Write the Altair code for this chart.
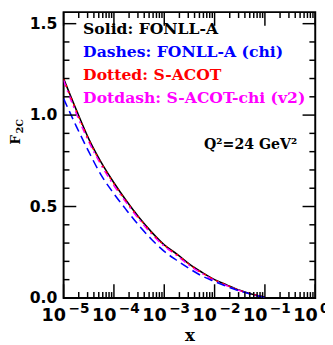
import altair as alt
import pandas as pd

# ---- data ----
x_vals = [1.0e-5, 1.78e-5, 3.16e-5, 5.62e-5, 1.0e-4, 1.78e-4, 3.16e-4, 5.62e-4,
          1.0e-3, 1.78e-3, 3.16e-3, 5.62e-3, 1.0e-2, 1.78e-2, 3.16e-2, 5.62e-2, 1.0e-1]
fonll_a = [1.20, 1.03, 0.87, 0.74, 0.63, 0.53, 0.44, 0.36, 0.29, 0.24, 0.185, 0.14,
           0.10, 0.07, 0.042, 0.02, 0.005]
fonll_a_chi = [1.09, 0.94, 0.80, 0.67, 0.57, 0.48, 0.395, 0.32, 0.255, 0.205, 0.16,
               0.12, 0.09, 0.062, 0.038, 0.018, 0.003]
s_acot = [1.20, 1.025, 0.865, 0.735, 0.625, 0.527, 0.437, 0.357, 0.288, 0.238, 0.183,
          0.138, 0.099, 0.069, 0.041, 0.02, 0.005]
s_acot_chi = [1.19, 1.01, 0.855, 0.725, 0.615, 0.52, 0.43, 0.35, 0.283, 0.232, 0.178,
              0.134, 0.096, 0.066, 0.04, 0.019, 0.004]

legend_lines = ["Solid: FONLL-A", "Dashes: FONLL-A (chi)", "Dotted: S-ACOT",
                "Dotdash: S-ACOT-chi (v2)"]
legend_colors = ["#000000", "#0000ff", "#ff0000", "#ff00ff"]
q2_label = "Q²=24 GeV²"

x_major = [1e-5, 1e-4, 1e-3, 1e-2, 1e-1, 1.0]
x_exponents = ["−5", "−4", "−3", "−2", "−1", "0"]
x_minor = [m * d for d in [1e-5, 1e-4, 1e-3, 1e-2, 1e-1] for m in range(2, 10)]
y_major = [0.0, 0.5, 1.0, 1.5]
y_minor = [0.1, 0.2, 0.3, 0.4, 0.6, 0.7, 0.8, 0.9, 1.1, 1.2, 1.3, 1.4]
y_top = 1.563

W, H = 258, 293
xscale = alt.Scale(type="log", domain=[1e-5, 1.0], nice=False)
yscale = alt.Scale(domain=[0, y_top], nice=False, zero=False)

x_axis = alt.Axis(values=x_major, labelExpr="'10'", ticks=False, tickSize=0,
                  domain=False, grid=False, labelFont="DejaVu Sans", labelFontWeight="bold",
                  labelFontSize=18, labelPadding=9, labelAlign="right", labelOffset=2,
                  labelColor="black", labelFlush=False, labelOverlap=False,
                  title="x", titleFont="DejaVu Serif", titleFontWeight="bold",
                  titleFontSize=17, titlePadding=4, titleColor="black")
y_axis = alt.Axis(values=y_major, format=".1f", ticks=False, tickSize=0, domain=False,
                  grid=False, labelFont="DejaVu Sans", labelFontWeight="bold",
                  labelFontSize=16, labelPadding=7, labelColor="black", labelFlush=False,
                  labelOverlap=False, title=None)


def series_layer(vals, color, dash):
    df = pd.DataFrame({"x": x_vals, "y": vals})
    kw = dict(color=color, strokeWidth=1.6, interpolate="monotone", clip=True)
    if dash:
        kw["strokeDash"] = dash
    return alt.Chart(df).mark_line(**kw).encode(
        x=alt.X("x:Q", scale=xscale, axis=x_axis),
        y=alt.Y("y:Q", scale=yscale, axis=y_axis),
    )


layers = [
    series_layer(fonll_a, "#000000", None),
    series_layer(s_acot_chi, "#ff00ff", [7, 4, 2, 4]),
    series_layer(s_acot, "#ff0000", [2, 5]),
    series_layer(fonll_a_chi, "#0000ff", [9, 5]),
]


def xticks(vals, length):
    df = pd.DataFrame({"x": vals})
    base = alt.Chart(df).mark_rule(color="black", strokeWidth=1.5)
    bot = base.encode(x=alt.X("x:Q", scale=xscale, axis=x_axis),
                      y=alt.value(H), y2=alt.value(H - length))
    top = base.encode(x=alt.X("x:Q", scale=xscale, axis=x_axis),
                      y=alt.value(0), y2=alt.value(length))
    return [bot, top]


def yticks(vals, length):
    df = pd.DataFrame({"y": vals})
    base = alt.Chart(df).mark_rule(color="black", strokeWidth=1.5)
    left = base.encode(y=alt.Y("y:Q", scale=yscale, axis=y_axis),
                       x=alt.value(0), x2=alt.value(length))
    right = base.encode(y=alt.Y("y:Q", scale=yscale, axis=y_axis),
                        x=alt.value(W), x2=alt.value(W - length))
    return [left, right]


layers += xticks(x_major, 14) + xticks(x_minor, 6)
layers += yticks(y_major, 13) + yticks(y_minor, 6)

# exponents of the x tick labels
layers.append(
    alt.Chart(pd.DataFrame({"x": x_major, "e": x_exponents})).mark_text(
        align="left", baseline="top", dx=5, font="DejaVu Sans", fontWeight="bold",
        fontSize=14, color="black"
    ).encode(x=alt.X("x:Q", scale=xscale, axis=x_axis), y=alt.value(H + 4), text="e:N")
)

legend_y = [17, 41, 65, 88]
for txt, col, yy in zip(legend_lines, legend_colors, legend_y):
    layers.append(
        alt.Chart(pd.DataFrame({"t": [txt]})).mark_text(
            align="left", baseline="middle", font="DejaVu Serif", fontWeight="bold",
            fontSize=16, color=col
        ).encode(text="t:N", x=alt.value(20), y=alt.value(yy))
    )

layers.append(
    alt.Chart(pd.DataFrame({"t": [q2_label]})).mark_text(
        align="left", baseline="middle", font="DejaVu Serif", fontWeight="bold",
        fontSize=14.5, color="black"
    ).encode(text="t:N", x=alt.value(144), y=alt.value(136))
)

# y-axis title F with subscript 2C
layers.append(
    alt.Chart(pd.DataFrame({"t": ["F"]})).mark_text(
        angle=270, align="center", baseline="middle", font="DejaVu Serif",
        fontWeight="bold", fontSize=14, color="black"
    ).encode(text="t:N", x=alt.value(-49), y=alt.value(131))
)
layers.append(
    alt.Chart(pd.DataFrame({"t": ["2C"]})).mark_text(
        angle=270, align="center", baseline="middle", font="DejaVu Serif",
        fontWeight="bold", fontSize=10, color="black"
    ).encode(text="t:N", x=alt.value(-45), y=alt.value(117))
)

chart = alt.layer(*layers).properties(
    width=W, height=H,
    autosize=alt.AutoSizeParams(type="none"),
    padding={"left": 57, "top": 0, "right": 10, "bottom": 44},
).configure_view(stroke="black", strokeWidth=2)

chart.save("out.html", embed_options={"renderer": "svg", "actions": False})
